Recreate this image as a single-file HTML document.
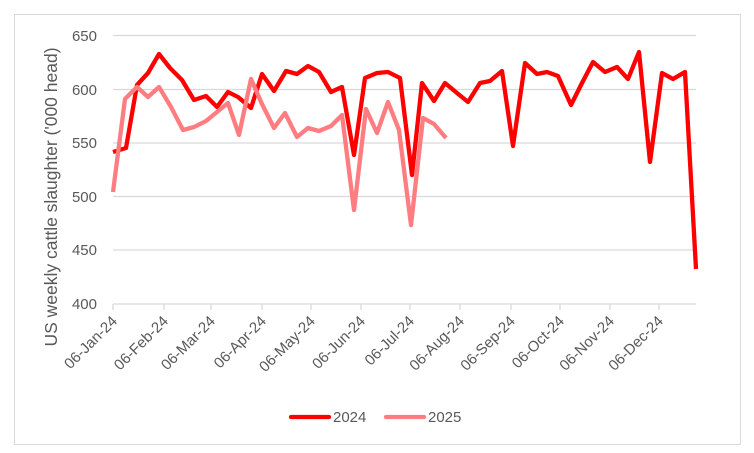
<!DOCTYPE html>
<html><head><meta charset="utf-8"><style>
body{margin:0;background:#fff}
svg{display:block;font-family:"Liberation Sans",sans-serif}
</style></head><body>
<svg width="754" height="453" viewBox="0 0 754 453">
<rect x="14.5" y="14.5" width="726" height="430" fill="#fff" stroke="#d9d9d9" stroke-width="1"/>
<g stroke="#d9d9d9" stroke-width="1.3">
<line x1="113" y1="35.5" x2="696" y2="35.5"/>
<line x1="113" y1="89.5" x2="696" y2="89.5"/>
<line x1="113" y1="143" x2="696" y2="143"/>
<line x1="113" y1="196.5" x2="696" y2="196.5"/>
<line x1="113" y1="250" x2="696" y2="250"/>
<line x1="113" y1="304" x2="696" y2="304"/>
<path d="M113 304v6M164 304v6M211 304v6M262 304v6M311 304v6M361 304v6M410 304v6M460 304v6M511 304v6M560 304v6M610 304v6M659 304v6"/>
</g>
<g fill="#595959" font-size="15" text-anchor="end">
<text x="97" y="41">650</text><text x="97" y="95">600</text><text x="97" y="148">550</text>
<text x="97" y="202">500</text><text x="97" y="255">450</text><text x="97" y="309">400</text>
</g>
<text transform="translate(57,197) rotate(-90)" fill="#595959" font-size="17.5" text-anchor="middle">US weekly cattle slaughter ('000 head)</text>
<g fill="#595959" font-size="15" text-anchor="end">
<text transform="translate(118,322) rotate(-45)">06-Jan-24</text>
<text transform="translate(169,322) rotate(-45)">06-Feb-24</text>
<text transform="translate(216,322) rotate(-45)">06-Mar-24</text>
<text transform="translate(267,322) rotate(-45)">06-Apr-24</text>
<text transform="translate(316,322) rotate(-45)">06-May-24</text>
<text transform="translate(366,322) rotate(-45)">06-Jun-24</text>
<text transform="translate(415,322) rotate(-45)">06-Jul-24</text>
<text transform="translate(465,322) rotate(-45)">06-Aug-24</text>
<text transform="translate(516,322) rotate(-45)">06-Sep-24</text>
<text transform="translate(565,322) rotate(-45)">06-Oct-24</text>
<text transform="translate(615,322) rotate(-45)">06-Nov-24</text>
<text transform="translate(664,322) rotate(-45)">06-Dec-24</text>
</g>
<polyline fill="none" stroke="#ff0000" stroke-width="4.3" stroke-linejoin="round" points="113,152 126,148 137,85 148,73 159,54 170,68 182,80 194,100 206,96 217,107 228,92 238,97 251,108 262,74 274,91 286,71 297,74 308,66 319,72 331,92 342,87 354,155 365,78 377,73 388,72 400,78 412,175 422,83 434,101 445,83 457,93 468,102 480,83 490,81 502,71 513,146 525,63 537,74 547,72 558,76 571,105 582,83 593,62 605,72 617,67 628,79 639,52 650,162 662,73 673,79 685,72 696,269"/>
<polyline fill="none" stroke="#ff7c80" stroke-width="4.3" stroke-linejoin="round" points="113,192 125,99 137,87 148,97 159,87 171,107 183,130 194,127 206,121 217,112 228,103 239,135 251,79 262,104 274,128 285,113 297,137 308,128 319,131 331,126 342,115 354,210 366,109 377,133 388,102 399,130 411,225 423,118 434,124 446,138"/>
<line x1="291" y1="417" x2="329" y2="417" stroke="#ff0000" stroke-width="4.3" stroke-linecap="round"/>
<text x="333" y="422" fill="#595959" font-size="15">2024</text>
<line x1="386" y1="417" x2="424" y2="417" stroke="#ff7c80" stroke-width="4.3" stroke-linecap="round"/>
<text x="428" y="422" fill="#595959" font-size="15">2025</text>
</svg>
</body></html>
